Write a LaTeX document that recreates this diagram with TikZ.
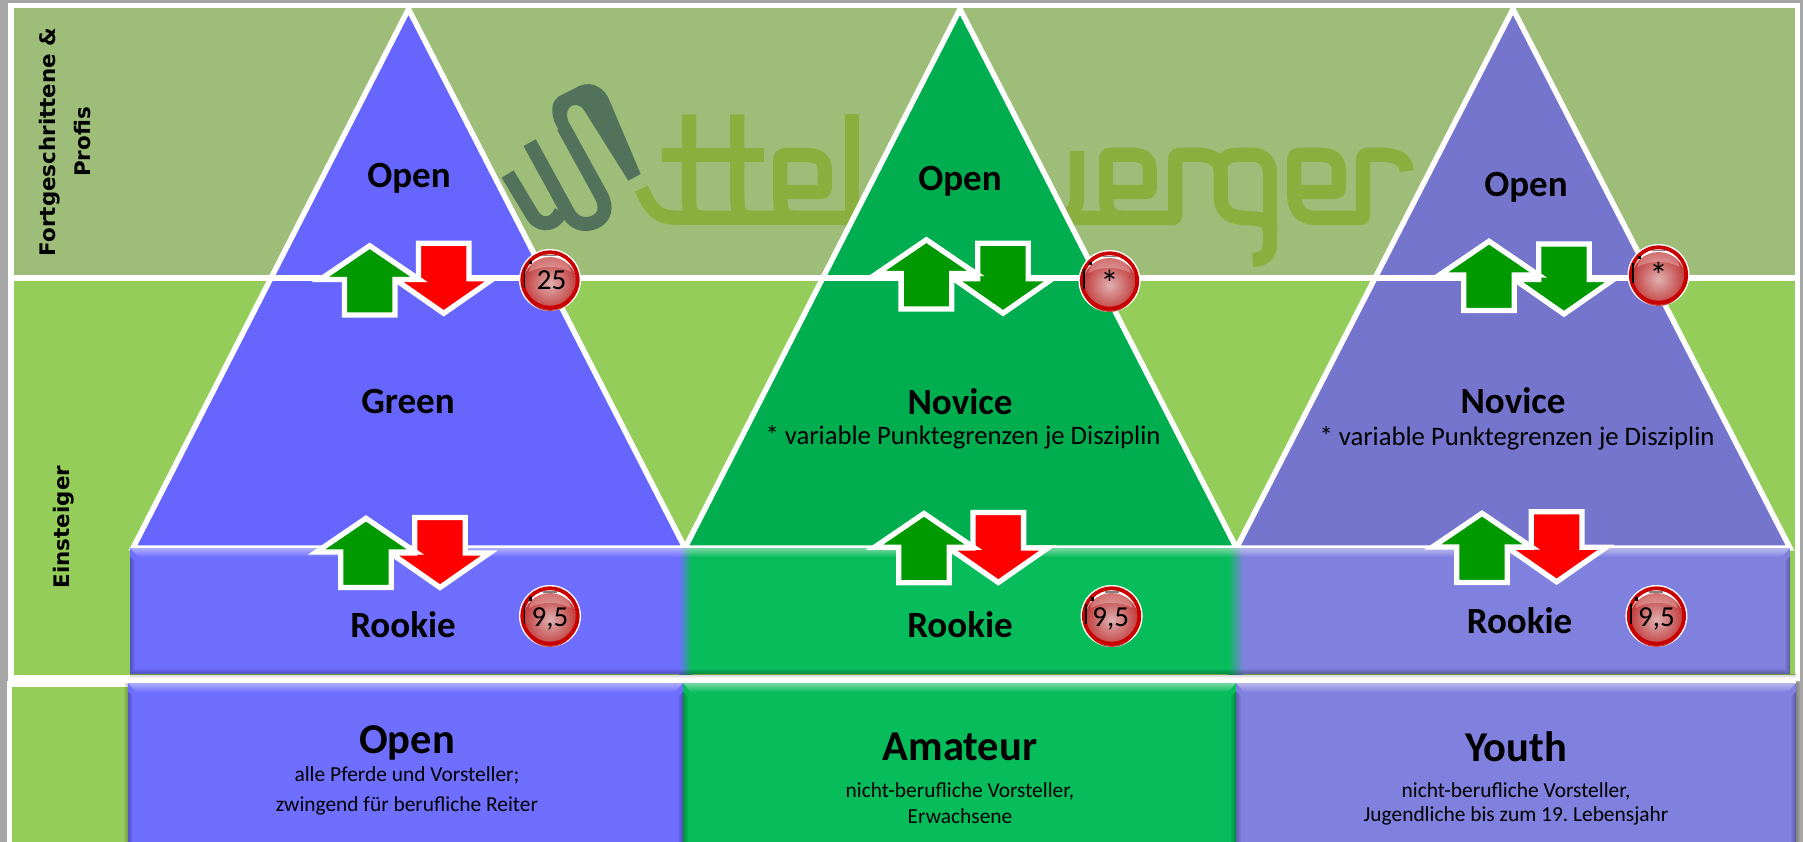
\documentclass[tikz,border=0pt]{standalone}
\usepackage{fontspec}
\setmainfont{Carlito}
\newfontfamily\sidefont{DejaVu Sans}
\definecolor{bgGrey}{HTML}{A6A6A6}
\definecolor{bandTop}{HTML}{9EBD78}
\definecolor{bandLow}{HTML}{95CD5A}
\definecolor{logoDark}{HTML}{53725C}
\definecolor{logoOlive}{HTML}{8AAF3F}
\definecolor{triBlue}{HTML}{6666FF}
\definecolor{triGreen}{HTML}{00AE50}
\definecolor{triPurple}{HTML}{7575CE}
\definecolor{boxBlue}{HTML}{6E6EFF}
\definecolor{boxGreen}{HTML}{07BC5A}
\definecolor{boxPurple}{HTML}{8080DF}
\definecolor{arrGreen}{HTML}{009900}
\definecolor{ballRing}{HTML}{C80000}
\definecolor{ballCore}{HTML}{DFB0B0}
\definecolor{ballEdge}{HTML}{C23A3A}
\tikzset{
  tri/.style={draw=white,line width=5.4pt,line join=miter},
  arrowshape/.style={draw=white,line width=5.3pt,line join=miter,miter limit=10},
  biglab/.style={font=\bfseries\fontsize{37}{40}\selectfont,inner sep=0pt},
  hugelab/.style={font=\bfseries\fontsize{42.5}{44}\selectfont,inner sep=0pt},
  midlab/.style={font=\fontsize{26.7}{28}\selectfont,inner sep=0pt},
  smalllab/.style={font=\fontsize{21.4}{24}\selectfont,inner sep=0pt},
  balllab/.style={font=\fontsize{29}{30}\selectfont,inner sep=0pt},
  sidelab/.style={font=\sidefont\bfseries\fontsize{21.4}{24}\selectfont,inner sep=0pt,rotate=90},
  olive/.style={draw=logoOlive,line width=14.3pt,line cap=butt,line join=round},
  darkstroke/.style={draw=logoDark,line width=14pt,line cap=butt,line join=round}
}
\newcommand{\uparr}[3]{\draw[arrowshape,fill=#3] (#1,#2-33.7) -- (#1+49.5,#2) -- (#1+25.3,#2) -- (#1+25.3,#2+35.5) -- (#1-25.3,#2+35.5) -- (#1-25.3,#2) -- (#1-49.5,#2) -- cycle;}
\newcommand{\dnarr}[3]{\draw[arrowshape,fill=#3] (#1-25.3,#2-35.5) -- (#1+25.3,#2-35.5) -- (#1+25.3,#2) -- (#1+49.5,#2) -- (#1,#2+34.5) -- (#1-49.5,#2) -- (#1-25.3,#2) -- cycle;}
\newcommand{\ballnum}[6]{%
  \fill[white] (#2,#3) circle (31);
  \shade[inner color=ballCore,outer color=ballEdge] (#2,#3+4) circle (27);
  \fill[ballRing,even odd rule] (#2,#3) circle (29.6) (#2,#3) circle (25.8);
  \fill[white,opacity=.28] (#2-21,#3-8) .. controls (#2-19,#3-28) and (#2+19,#3-28) .. (#2+21,#3-8) .. controls (#2+8,#3-15) and (#2-8,#3-15) .. cycle;
  \fill[black!50] (#2-7,#3-25) rectangle (#2+7,#3-23.5);
  \fill[black] (#2-26.5,#3-12) rectangle (#2-24.8,#3+8);
  \fill[black] (#2-21,#3-19) rectangle (#2-18,#3-15.5);
  \node[balllab] (#1) at (#2+#4,#3+#5) {#6};
}
\newcommand{\bevel}[4]{%
  \foreach \i in {0,...,8}{
    \pgfmathsetmacro{\op}{0.42*(1-\i/9)}
    \fill[white,fill opacity=\op] ({#1+\i*.9},{#2+\i}) -- ({#3-\i*.9},{#2+\i}) -- ({#3-\i*.9-.9},{#2+\i+1}) -- ({#1+\i*.9+.9},{#2+\i+1}) -- cycle;
  }
  \foreach \i in {0,...,4}{
    \pgfmathsetmacro{\op}{0.22*(1-\i/5)}
    \fill[black,fill opacity=\op] ({#1+\i},{#4-\i}) -- ({#3-\i},{#4-\i}) -- ({#3-\i-1},{#4-\i-1}) -- ({#1+\i+1},{#4-\i-1}) -- cycle;
    \fill[black,fill opacity=\op] ({#3-\i},{#2+\i+9}) -- ({#3-\i},{#4-\i}) -- ({#3-\i-1},{#4-\i-1}) -- ({#3-\i-1},{#2+\i+9}) -- cycle;
    \fill[black,fill opacity=\op] ({#1+\i},{#2+\i+9}) -- ({#1+\i},{#4-\i}) -- ({#1+\i+1},{#4-\i-1}) -- ({#1+\i+1},{#2+\i+9}) -- cycle;
  }
}
\frenchspacing
\begin{document}
\begin{tikzpicture}[x=1pt,y=-1pt]
\useasboundingbox (0,0) rectangle (1803,842);
\fill[bgGrey] (0,0) rectangle (1803,842);
\fill[white] (8,3) rectangle (1800,681);
\fill[white] (7,681) rectangle (1796,842);
\fill[bandTop] (14,8) rectangle (1795,275);
\fill[bandLow] (14,280.5) rectangle (1795,675);
\fill[bandLow] (12,687) rectangle (128,842);
\begin{scope}[shift={(500,70)},x=0.33333pt,y=-0.33333pt]
  \fill[logoDark] (157,125) .. controls (155,95) and (170,80) .. (190,72) -- (240,47) .. controls (280,32) and (315,55) .. (330,95) -- (422,312) -- (385,332) -- (255,125) .. controls (240,98) and (210,98) .. (202,125) .. controls (198,140) and (205,155) .. (212,170) -- (180,185) .. controls (165,165) and (158,145) .. (157,125) -- cycle;
  \draw[darkstroke] (23,312) -- (100,440) .. controls (125,472) and (165,465) .. (183,425);
  \draw[darkstroke] (89,218) -- (205,430) .. controls (228,470) and (270,468) .. (295,450) .. controls (320,432) and (318,400) .. (300,370) -- (190,170);
  \fill[logoOlive] (487,235) rectangle (792,276);
  \draw[olive] (424,356) .. controls (450,410) and (465,443) .. (530,443) -- (1100,443);
  \draw[olive] (567,133) -- (567,385) .. controls (567,425) and (575,443) .. (610,443);
  \draw[olive] (712,133) -- (712,385) .. controls (712,425) and (720,443) .. (755,443);
  \draw[olive] (880,443) .. controls (850,443) and (841,420) .. (841,385) -- (841,270) .. controls (841,258) and (848,255) .. (860,255) -- (915,255) .. controls (960,255) and (974,270) .. (974,300) -- (974,355) .. controls (974,362) and (970,366) .. (962,366) -- (855,366);
  \draw[olive] (1055,133) -- (1055,443);
\end{scope}
\begin{scope}[shift={(1060,100)},x=0.33333pt,y=-0.33333pt]
  \draw[olive] (51,153) -- (51,290) .. controls (51,330) and (35,354) .. (-30,354) -- (340,354) .. controls (342,354) and (346,352) .. (346,345) -- (346,180) .. controls (346,168) and (350,164) .. (360,164) -- (410,164) .. controls (462,164) and (482,185) .. (482,215) -- (482,290) .. controls (482,335) and (510,354) .. (560,354) -- (590,356) .. controls (622,362) and (630,375) .. (630,395) -- (630,430) .. controls (630,465) and (610,479) .. (578,479);
  \draw[olive] (482,195) .. controls (490,172) and (510,164) .. (540,164) -- (575,164) .. controls (615,164) and (630,190) .. (630,225) -- (630,400);
  \draw[olive] (190,354) .. controls (150,354) and (138,330) .. (138,295) -- (138,180) .. controls (138,168) and (144,164) .. (155,164) -- (210,164) .. controls (255,164) and (269,180) .. (269,210) -- (269,265) .. controls (269,272) and (265,276) .. (258,276) -- (150,276);
  \draw[olive] (770,354) .. controls (720,354) and (703,325) .. (703,285) -- (703,180) .. controls (703,168) and (709,164) .. (720,164) -- (775,164) .. controls (820,164) and (836,180) .. (836,210) -- (836,265) .. controls (836,272) and (832,276) .. (825,276) -- (715,276);
  \draw[olive] (760,354) -- (900,354) .. controls (906,354) and (909,350) .. (909,345) -- (909,180) .. controls (909,168) and (915,164) .. (925,164) -- (960,164) .. controls (1010,164) and (1040,180) .. (1040,213);
\end{scope}
\draw[tri,fill=triBlue] (408.5,9) -- (685,548) -- (133,548) -- cycle;
\draw[tri,fill=triGreen] (960,9) -- (1236.5,548) -- (685,548) -- cycle;
\draw[tri,fill=triPurple] (1513,9) -- (1790,548) -- (1236.5,548) -- cycle;
\fill[white] (14,275) rectangle (1795,280.5);
\fill[boxBlue] (130,548) rectangle (679.5,674);
\shade[left color=boxBlue,right color=boxGreen] (679,548) rectangle (691.5,674);
\fill[boxGreen] (691,548) rectangle (1228.5,674);
\shade[left color=boxGreen,right color=boxPurple] (1228,548) rectangle (1243.5,674);
\fill[boxPurple] (1243,548) rectangle (1790,674);
\bevel{130}{548}{1790}{674}
\foreach \i in {0,...,3}{\pgfmathsetmacro{\op}{0.2*(1-\i/4)}\fill[black,fill opacity=\op] (130,674+\i) rectangle (1796,675+\i);}
\foreach \i in {0,...,3}{\pgfmathsetmacro{\op}{0.2*(1-\i/4)}\fill[black,fill opacity=\op] (128-\i-1,683) rectangle (128-\i,842);}
\fill[boxBlue] (128,683) rectangle (683,842);
\bevel{128}{683}{683}{850}
\fill[boxGreen] (683,683) rectangle (1236,842);
\bevel{683}{683}{1236}{850}
\fill[boxPurple] (1236,683) rectangle (1796,842);
\bevel{1236}{683}{1796}{850}
\foreach \i in {0,...,3}{\pgfmathsetmacro{\op}{0.2*(1-\i/4)}\fill[black,fill opacity=\op] (1796+\i,683) rectangle (1797+\i,842);}
\dnarr{443.7}{278.8}{red}
\uparr{369.7}{279.5}{arrGreen}
\dnarr{1003}{278.7}{arrGreen}
\uparr{926.4}{273.5}{arrGreen}
\dnarr{1564}{279.5}{arrGreen}
\uparr{1489}{275}{arrGreen}
\dnarr{440}{553}{red}
\uparr{366}{552}{arrGreen}
\dnarr{998.3}{548}{red}
\uparr{924}{547.2}{arrGreen}
\dnarr{1556.6}{547.3}{red}
\uparr{1482}{547}{arrGreen}
\ballnum{ballA}{550}{280}{1.5}{0.5}{25}
\ballnum{ballB}{1109.5}{281}{0}{2}{\fontsize{37}{38}\selectfont *}
\ballnum{ballC}{1658.5}{275}{0}{0}{\fontsize{37}{38}\selectfont *}
\ballnum{ballD}{550}{616}{0}{2.5}{9,5}
\ballnum{ballE}{1111.6}{616}{-1}{2.5}{9,5}
\ballnum{ballF}{1656.4}{616}{0}{2.5}{9,5}
\node[biglab] (openA) at (409,178.5) {Open};
\node[biglab] (openB) at (960,181.5) {Open};
\node[biglab] (openC) at (1526,187.5) {Open};
\node[biglab] (green) at (408,402) {Green};
\node[biglab] (noviceB) at (960,402) {Novice};
\node[biglab] (noviceC) at (1513,401) {Novice};
\node[midlab] (subB) at (963,437.5) {* variable Punktegrenzen je Disziplin};
\node[midlab] (subC) at (1517,438.5) {* variable Punktegrenzen je Disziplin};
\node[biglab] (rookieA) at (403,625) {Rookie};
\node[biglab] (rookieB) at (960,625) {Rookie};
\node[biglab] (rookieC) at (1519.5,621) {Rookie};
\node[hugelab] (catA) at (407,743) {Open};
\node[hugelab] (catB) at (960,747) {Amateur};
\node[hugelab] (catC) at (1516,747) {Youth};
\node[smalllab] (descA1) at (407,775) {alle Pferde und Vorsteller;};
\node[smalllab] (descA2) at (407,806) {zwingend für berufliche Reiter};
\node[smalllab] (descB1) at (960,791) {nicht-berufliche Vorsteller,};
\node[smalllab] (descB2) at (960,816) {Erwachsene};
\node[smalllab] (descC1) at (1516,791) {nicht-berufliche Vorsteller,};
\node[smalllab] (descC2) at (1516,816) {Jugendliche bis zum 19. Lebensjahr};
\node[sidelab] (sideA) at (50,142) {Fortgeschrittene \&};
\node[sidelab] (sideB) at (83,142) {Profis};
\node[sidelab] (sideC) at (64,527) {Einsteiger};
\end{tikzpicture}
\end{document}
